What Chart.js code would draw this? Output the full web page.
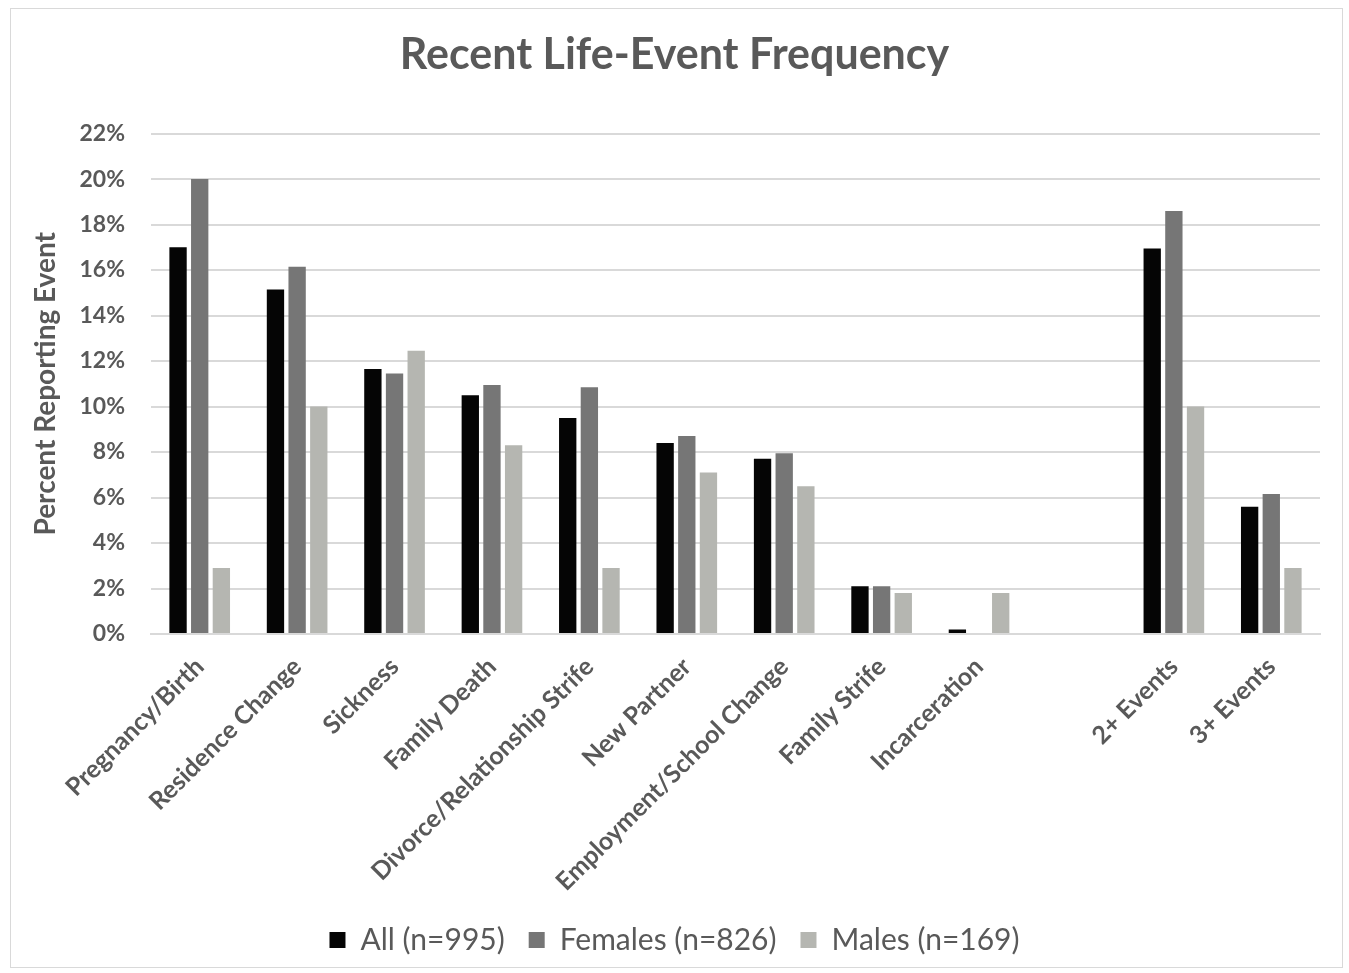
<!DOCTYPE html>
<html>
<head>
<meta charset="utf-8">
<script src="https://cdn.jsdelivr.net/npm/chart.js@4.4.1/dist/chart.umd.min.js"></script>
<style>
  html, body { margin: 0; padding: 0; background: #fff; }
  .frame {
    position: absolute; left: 10px; top: 8px;
    width: 1333px; height: 960px;
    border: 1px solid #d9d9d9; box-sizing: border-box;
  }
  canvas { display: block; }
</style>
</head>
<body>
<div class="frame"><canvas id="lifeEvents" width="1331" height="958"></canvas></div>
<script>
// categories (one empty slot separates the single events from the counts)
const categories = [
  'Pregnancy/Birth', 'Residence Change', 'Sickness', 'Family Death',
  'Divorce/Relationship Strife', 'New Partner', 'Employment/School Change',
  'Family Strife', 'Incarceration', '', '2+ Events', '3+ Events'
];

// percent reporting event
const allValues     = [17.0, 15.15, 11.65, 10.5, 9.5, 8.4, 7.7, 2.1, 0.2, null, 16.95, 5.6];
const femaleValues  = [20.0, 16.15, 11.45, 10.95, 10.85, 8.7, 7.95, 2.1, 0, null, 18.6, 6.15];
const maleValues    = [2.9, 10.0, 12.45, 8.3, 2.9, 7.1, 6.5, 1.8, 1.8, null, 10.0, 2.9];

const seriesLabels = ['All (n=995)', 'Females (n=826)', 'Males (n=169)'];
const yTicks = [0, 2, 4, 6, 8, 10, 12, 14, 16, 18, 20, 22];

const textColor = '#595959';
const gridColor = '#d9d9d9';
const fontFamily = 'Lato, "Open Sans", sans-serif';

const bar = (label, data, color) => ({
  label, data, backgroundColor: color, borderWidth: 0,
  barPercentage: 0.8, categoryPercentage: 0.667
});

new Chart(document.getElementById('lifeEvents'), {
  type: 'bar',
  data: {
    labels: categories,
    datasets: [
      bar(seriesLabels[0], allValues, '#050505'),
      bar(seriesLabels[1], femaleValues, '#767676'),
      bar(seriesLabels[2], maleValues, '#b5b6b1'),
    ]
  },
  options: {
    responsive: false,
    animation: false,
    layout: { padding: { left: 18, right: 22, top: 12, bottom: 2 } },
    plugins: {
      title: {
        display: true, text: 'Recent Life-Event Frequency', color: textColor,
        font: { family: fontFamily, size: 43, weight: 'bold' },
        padding: { top: 8, bottom: 53 }
      },
      legend: {
        position: 'bottom',
        labels: {
          color: textColor, boxWidth: 16, boxHeight: 16, padding: 24,
          font: { family: fontFamily, size: 30 }
        }
      },
      tooltip: { enabled: false }
    },
    scales: {
      x: {
        grid: { display: false },
        border: { color: gridColor, width: 2 },
        ticks: {
          color: textColor, maxRotation: 45, minRotation: 45, autoSkip: false,
          padding: 10,
          font: { family: fontFamily, size: 25, weight: 'bold' }
        },
        afterFit: s => { s.height = 267; }
      },
      y: {
        min: 0, max: 22,
        afterBuildTicks: s => { s.ticks = yTicks.map(v => ({ value: v })); },
        grid: { color: gridColor, lineWidth: 2, drawTicks: false },
        border: { display: false },
        ticks: {
          color: textColor, padding: 26,
          font: { family: fontFamily, size: 23, weight: 'bold' },
          callback: v => v + '%'
        },
        title: {
          display: true, text: 'Percent Reporting Event', color: textColor,
          font: { family: fontFamily, size: 28, weight: 'bold' },
          padding: { top: 0, bottom: 10 }
        },
        afterFit: s => { s.width = 122; }
      }
    }
  }
});
</script>
</body>
</html>
